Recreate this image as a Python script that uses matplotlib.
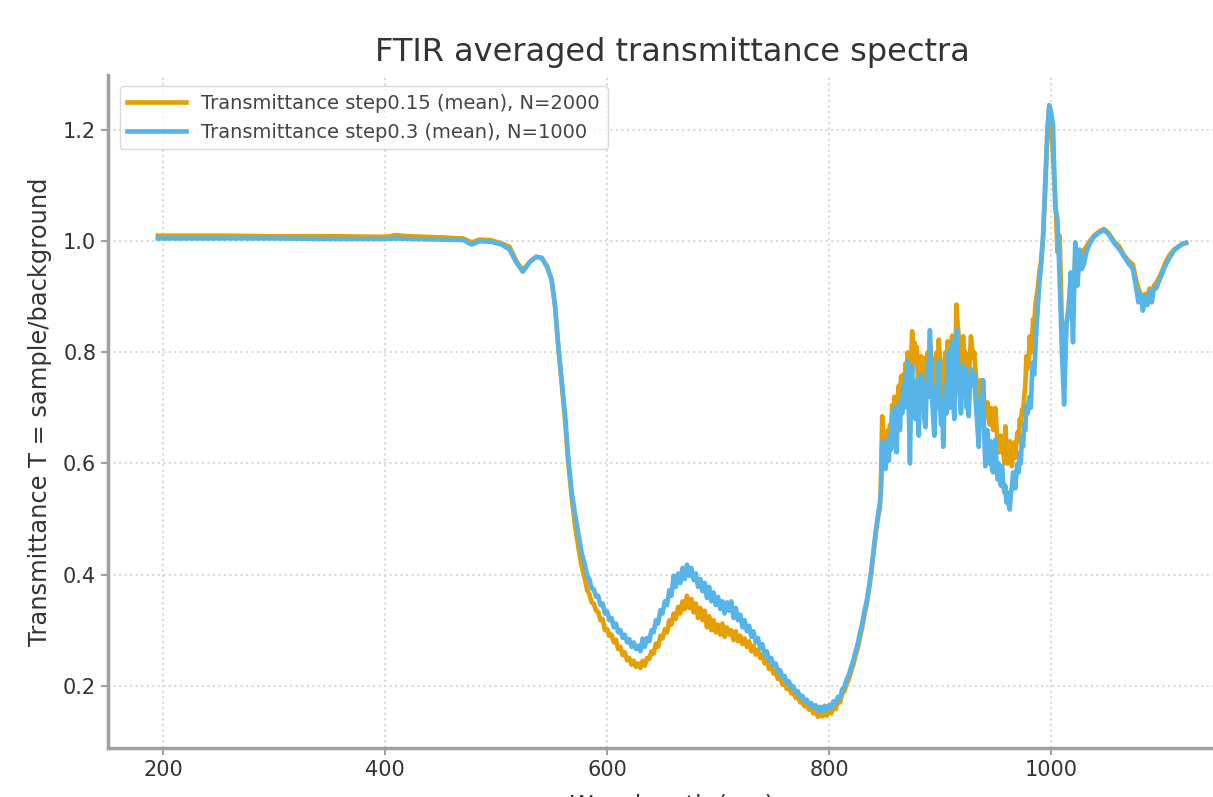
import numpy as np
import matplotlib.pyplot as plt

# wavelength grid (nm) shared by both averaged spectra
wl_flat = [195, 250, 300, 350, 400, 410, 420, 450, 470, 478, 485, 495, 505, 512, 518, 524, 530, 536, 541,
           546, 550, 553, 556, 559, 562, 565, 568, 571, 574, 577]
wl_trough = list(range(580, 846, 2))
wl_noisy = list(range(846, 992, 1))
wl_tail = [993, 995, 997, 998.5, 1000, 1002, 1004, 1006, 1008, 1010, 1012, 1014, 1016, 1018, 1020, 1022,
           1024, 1026, 1028, 1030, 1032, 1035, 1039, 1044, 1048, 1052, 1057, 1062, 1066, 1070, 1074, 1077,
           1079, 1081, 1083, 1085, 1087, 1089, 1091, 1093, 1095, 1099, 1103, 1107, 1111, 1115, 1119, 1122]
wavelength = wl_flat + wl_trough + wl_noisy + wl_tail

# step 0.15, N=2000
t015_flat = [1.010, 1.010, 1.009, 1.009, 1.008, 1.011, 1.009, 1.007, 1.005, 0.998, 1.003, 1.002, 0.996, 0.990,
             0.965, 0.948, 0.962, 0.972, 0.970, 0.955, 0.930, 0.885, 0.810, 0.745, 0.680, 0.600, 0.540, 0.490,
             0.450, 0.415]
t015_trough = [0.392, 0.372, 0.365, 0.350, 0.348, 0.335, 0.333, 0.318, 0.320, 0.300, 0.302, 0.290, 0.292, 0.278,
               0.283, 0.266, 0.270, 0.255, 0.260, 0.246, 0.250, 0.238, 0.245, 0.234, 0.240, 0.232, 0.245, 0.236,
               0.250, 0.248, 0.262, 0.258, 0.276, 0.270, 0.290, 0.285, 0.302, 0.296, 0.318, 0.310, 0.330, 0.320,
               0.342, 0.330, 0.352, 0.338, 0.362, 0.340, 0.356, 0.332, 0.348, 0.322, 0.340, 0.318, 0.335, 0.305,
               0.325, 0.300, 0.318, 0.296, 0.310, 0.292, 0.312, 0.288, 0.305, 0.292, 0.300, 0.282, 0.298, 0.280,
               0.290, 0.275, 0.285, 0.270, 0.280, 0.262, 0.272, 0.256, 0.265, 0.250, 0.256, 0.240, 0.246, 0.230,
               0.236, 0.222, 0.226, 0.212, 0.216, 0.202, 0.206, 0.194, 0.197, 0.186, 0.189, 0.178, 0.181, 0.170,
               0.172, 0.163, 0.166, 0.157, 0.160, 0.150, 0.156, 0.144, 0.152, 0.145, 0.154, 0.146, 0.156, 0.150,
               0.162, 0.158, 0.172, 0.170, 0.186, 0.190, 0.204, 0.212, 0.226, 0.238, 0.255, 0.268, 0.288, 0.305,
               0.328, 0.346, 0.372, 0.400, 0.435, 0.470, 0.500]
t015_noisy = [0.520, 0.580, 0.685, 0.640, 0.650, 0.620, 0.640, 0.660, 0.630, 0.670, 0.650, 0.705, 0.670, 0.720,
              0.680, 0.700, 0.720, 0.740, 0.700, 0.757, 0.730, 0.760, 0.740, 0.780, 0.760, 0.800, 0.760, 0.740,
              0.780, 0.838, 0.800, 0.818, 0.780, 0.810, 0.760, 0.720, 0.780, 0.793, 0.760, 0.790, 0.750, 0.740,
              0.780, 0.800, 0.790, 0.823, 0.800, 0.780, 0.740, 0.720, 0.770, 0.800, 0.760, 0.823, 0.790, 0.740,
              0.770, 0.720, 0.780, 0.800, 0.760, 0.820, 0.790, 0.760, 0.800, 0.830, 0.780, 0.760, 0.800, 0.886,
              0.850, 0.829, 0.790, 0.770, 0.810, 0.829, 0.790, 0.800, 0.760, 0.770, 0.740, 0.790, 0.829, 0.810,
              0.790, 0.800, 0.770, 0.751, 0.720, 0.700, 0.730, 0.750, 0.720, 0.740, 0.710, 0.685, 0.700, 0.710,
              0.680, 0.670, 0.700, 0.680, 0.660, 0.690, 0.700, 0.667, 0.640, 0.620, 0.640, 0.650, 0.620, 0.640,
              0.600, 0.667, 0.620, 0.600, 0.620, 0.640, 0.610, 0.595, 0.630, 0.638, 0.610, 0.640, 0.656, 0.640,
              0.680, 0.670, 0.697, 0.690, 0.720, 0.740, 0.793, 0.770, 0.780, 0.829, 0.800, 0.820, 0.860, 0.840,
              0.883, 0.900, 0.910, 0.930, 0.950, 0.960]
t015_tail = [1.005, 1.090, 1.200, 1.240, 1.230, 1.150, 1.080, 0.980, 1.010, 0.850, 0.740, 0.850, 0.880, 0.930,
             0.870, 0.970, 0.930, 0.975, 0.960, 0.985, 0.990, 1.000, 1.010, 1.018, 1.022, 1.015, 1.000, 0.990,
             0.975, 0.965, 0.958, 0.930, 0.915, 0.905, 0.890, 0.905, 0.900, 0.915, 0.905, 0.920, 0.925, 0.940,
             0.960, 0.975, 0.985, 0.990, 0.995, 0.997]
t_step015 = t015_flat + t015_trough + t015_noisy + t015_tail

# step 0.3, N=1000
t03_flat = [1.005, 1.005, 1.005, 1.004, 1.004, 1.005, 1.004, 1.003, 1.002, 0.994, 1.000, 0.999, 0.994, 0.985,
            0.962, 0.945, 0.962, 0.972, 0.970, 0.953, 0.930, 0.885, 0.810, 0.750, 0.690, 0.610, 0.550, 0.510,
            0.475, 0.440]
t03_trough = [0.418, 0.398, 0.392, 0.375, 0.374, 0.360, 0.362, 0.345, 0.348, 0.330, 0.334, 0.318, 0.322, 0.305,
              0.312, 0.296, 0.300, 0.286, 0.292, 0.278, 0.284, 0.270, 0.278, 0.266, 0.272, 0.262, 0.285, 0.270,
              0.286, 0.280, 0.300, 0.296, 0.318, 0.312, 0.336, 0.330, 0.352, 0.345, 0.372, 0.362, 0.398, 0.378,
              0.402, 0.385, 0.412, 0.392, 0.418, 0.398, 0.412, 0.390, 0.402, 0.378, 0.392, 0.370, 0.385, 0.358,
              0.378, 0.352, 0.368, 0.345, 0.360, 0.338, 0.352, 0.330, 0.350, 0.335, 0.352, 0.322, 0.340, 0.318,
              0.328, 0.305, 0.318, 0.298, 0.308, 0.288, 0.298, 0.278, 0.286, 0.268, 0.275, 0.255, 0.262, 0.245,
              0.250, 0.236, 0.240, 0.225, 0.228, 0.215, 0.218, 0.205, 0.208, 0.196, 0.199, 0.188, 0.190, 0.180,
              0.182, 0.172, 0.175, 0.166, 0.169, 0.160, 0.165, 0.154, 0.162, 0.155, 0.164, 0.156, 0.165, 0.160,
              0.172, 0.168, 0.180, 0.178, 0.194, 0.198, 0.212, 0.220, 0.234, 0.246, 0.262, 0.276, 0.296, 0.312,
              0.335, 0.352, 0.378, 0.405, 0.440, 0.476, 0.505]
t03_noisy = [0.530, 0.555, 0.640, 0.600, 0.628, 0.590, 0.615, 0.640, 0.605, 0.650, 0.625, 0.690, 0.650, 0.700,
             0.640, 0.620, 0.690, 0.705, 0.660, 0.715, 0.690, 0.740, 0.700, 0.760, 0.720, 0.785, 0.690, 0.600,
             0.720, 0.775, 0.700, 0.740, 0.680, 0.750, 0.700, 0.650, 0.730, 0.760, 0.700, 0.745, 0.680, 0.665,
             0.730, 0.780, 0.720, 0.840, 0.760, 0.720, 0.680, 0.650, 0.710, 0.740, 0.700, 0.785, 0.720, 0.670,
             0.700, 0.630, 0.700, 0.740, 0.690, 0.800, 0.740, 0.700, 0.760, 0.818, 0.720, 0.680, 0.760, 0.840,
             0.800, 0.760, 0.720, 0.690, 0.750, 0.775, 0.730, 0.770, 0.700, 0.720, 0.685, 0.740, 0.770, 0.765,
             0.740, 0.760, 0.720, 0.690, 0.660, 0.630, 0.690, 0.720, 0.680, 0.750, 0.650, 0.595, 0.640, 0.660,
             0.620, 0.600, 0.640, 0.590, 0.584, 0.620, 0.643, 0.600, 0.571, 0.600, 0.580, 0.560, 0.595, 0.570,
             0.548, 0.560, 0.530, 0.548, 0.525, 0.517, 0.545, 0.560, 0.584, 0.570, 0.555, 0.584, 0.600, 0.584,
             0.620, 0.600, 0.649, 0.630, 0.670, 0.660, 0.703, 0.690, 0.710, 0.721, 0.700, 0.760, 0.782, 0.760,
             0.800, 0.840, 0.870, 0.900, 0.932, 0.950]
t03_tail = [1.009, 1.110, 1.200, 1.245, 1.235, 1.210, 1.060, 1.040, 0.930, 0.800, 0.706, 0.850, 0.875, 0.944,
            0.818, 0.998, 0.920, 0.985, 0.950, 0.960, 0.980, 0.995, 1.008, 1.016, 1.020, 1.013, 0.997, 0.985,
            0.972, 0.960, 0.950, 0.915, 0.890, 0.905, 0.875, 0.900, 0.885, 0.910, 0.890, 0.915, 0.915, 0.935,
            0.955, 0.970, 0.983, 0.990, 0.996, 0.997]
t_step03 = t03_flat + t03_trough + t03_noisy + t03_tail

plt.rcParams['font.family'] = 'DejaVu Sans'

fig = plt.figure(figsize=(12.13, 7.97), dpi=100)
# axes run past the right edge, the reference is cropped there
ax = fig.add_axes([0.089, 0.0615, 0.93, 0.845])

ax.plot(wavelength, t_step015, color='#E69F00', lw=3.3, label='Transmittance step0.15 (mean), N=2000')
ax.plot(wavelength, t_step03, color='#56B4E9', lw=3.3, label='Transmittance step0.3 (mean), N=1000')

ax.set_xlim(150, 1167)
ax.set_ylim(0.088, 1.3)
ax.set_xticks([200, 400, 600, 800, 1000])
ax.set_yticks([0.2, 0.4, 0.6, 0.8, 1.0, 1.2])

ax.grid(True, linestyle=':', color='#d8d8d8', lw=1.5)
for s in ['top', 'right']:
    ax.spines[s].set_visible(False)
for s in ['left', 'bottom']:
    ax.spines[s].set_color('#a0a0a0')
    ax.spines[s].set_linewidth(2.5)
ax.tick_params(colors='#a0a0a0', labelcolor='#333333', labelsize=15, length=5, width=1.5)

ax.set_title('FTIR averaged transmittance spectra', fontsize=23, color='#333333', pad=10)
ax.set_xlabel('Wavelength (nm)', fontsize=17, color='#333333', labelpad=10)
ax.set_ylabel('Transmittance T = sample/background', fontsize=17.4, color='#333333', labelpad=8)

leg = ax.legend(loc='upper left', fontsize=14, frameon=True, handlelength=3, borderaxespad=0.6)
leg.get_frame().set_edgecolor('#d0d0d0')
for t in leg.get_texts():
    t.set_color('#444444')

fig.savefig('out.png', dpi=100)
